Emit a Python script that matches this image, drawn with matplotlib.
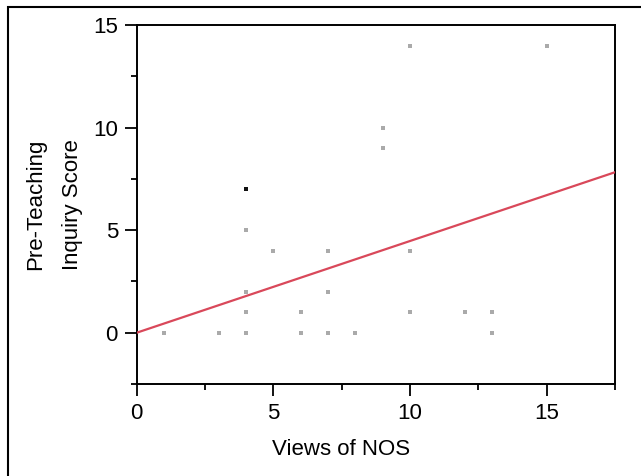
import matplotlib.pyplot as plt
from matplotlib.patches import Rectangle
from matplotlib.ticker import MultipleLocator

plt.rcParams['font.family'] = ['Liberation Sans', 'DejaVu Sans']

# scores
views_nos = [1, 3, 4, 4, 4, 4, 5, 6, 6, 7, 7, 7, 8, 9, 9, 10, 10, 10, 12, 13, 13, 15]
inquiry = [0, 0, 0, 1, 2, 5, 4, 0, 1, 0, 2, 4, 0, 9, 10, 14, 4, 1, 1, 1, 0, 14]
dense_x = [4]
dense_y = [7]

# fitted line as drawn
fit_intercept = 0.0
fit_slope = 0.447

fig = plt.figure(figsize=(6.41, 4.76), dpi=100)
ax = fig.add_axes([0.2133, 0.1933, 0.9594 - 0.2133, 0.9475 - 0.1933])

ax.scatter(views_nos, inquiry, marker='s', s=9, color='#aaaaaa', linewidths=0, zorder=2)
ax.scatter(dense_x, dense_y, marker='s', s=9, color='#111111', linewidths=0, zorder=3)

xl = (0, 17.5)
ax.plot(xl, [fit_intercept + fit_slope * v for v in xl], color='#d9485a', lw=1.6, zorder=4)

ax.set_xlim(*xl)
ax.set_ylim(-2.5, 15)
ax.xaxis.set_major_locator(MultipleLocator(5))
ax.xaxis.set_minor_locator(MultipleLocator(2.5))
ax.yaxis.set_major_locator(MultipleLocator(5))
ax.yaxis.set_minor_locator(MultipleLocator(2.5))
ax.tick_params(which='major', direction='out', length=8.5, width=1.3, labelsize=16, pad=5)
ax.tick_params(which='minor', direction='out', length=4, width=1.3)
for s in ax.spines.values():
    s.set_linewidth(1.4)

ax.set_xlabel('Views of NOS', fontsize=16)
ax.xaxis.set_label_coords(0.427, -0.152)
ax.set_ylabel('Pre-Teaching\nInquiry Score', fontsize=16, linespacing=2.0)
ax.yaxis.set_label_coords(-0.113, 0.5)

# outer frame (cut off at right and bottom)
fig.patches.append(Rectangle((8 / 641, -0.1), 1.2, 1 - 7 / 476 + 0.1,
                             transform=fig.transFigure, fill=False,
                             edgecolor='black', lw=1.5))

plt.savefig('out.png', dpi=100)
plt.close()
